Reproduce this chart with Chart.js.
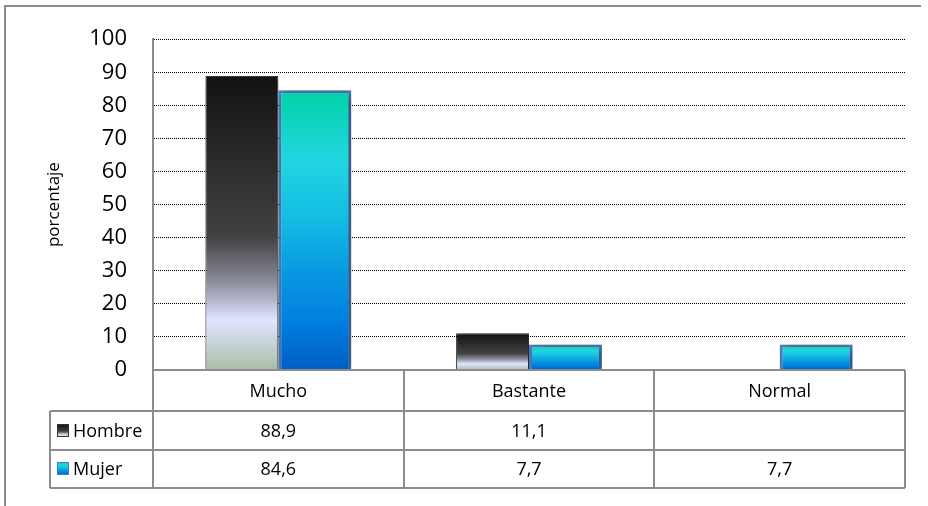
<!DOCTYPE html>
<html>
<head>
<meta charset="utf-8">
<script src="https://cdn.jsdelivr.net/npm/chart.js@4"></script>
<style>
  html, body { margin: 0; padding: 0; background: #fff; }
  #wrap { width: 928px; height: 506px; }
</style>
</head>
<body>
<div id="wrap"><canvas id="chart" width="928" height="506"></canvas></div>
<script>
// ========== DATA ==========
const categories = ['Mucho', 'Bastante', 'Normal'];
const seriesNames = ['Hombre', 'Mujer'];
const hombre = [88.9, 11.1, null];
const mujer = [84.6, 7.7, 7.7];
const yMin = 0, yMax = 100, yStep = 10;

const FONT = '"Open Sans", "Liberation Sans", sans-serif';
const LINE = '#8c8c8c';

// gradiente por barra (de arriba a abajo)
function barGradient(stops) {
    return function(c) {
        const chart = c.chart;
        if (!chart.chartArea || c.raw == null) return stops[0][1];
        const y = chart.scales.y;
        const top = y.getPixelForValue(c.raw);
        const bottom = y.getPixelForValue(0);
        const g = chart.ctx.createLinearGradient(0, top, 0, bottom);
        stops.forEach(s => g.addColorStop(s[0], s[1]));
        return g;
    };
}

const hombreStops = [
    [0, '#121212'], [0.55, '#424242'], [0.70, '#8c8c9c'],
    [0.83, '#dfe5ff'], [0.92, '#c4d0d4'], [1, '#a8bea4']
];
const mujerStops = [
    [0, '#00d3a6'], [0.25, '#21d6e0'], [0.45, '#14bde3'],
    [0.65, '#0899e2'], [0.82, '#0080e0'], [1, '#005ec4']
];

// ========== PLUGINS ==========
const framePlugin = {
    id: 'frame',
    beforeDraw(chart) {
        const ctx = chart.ctx;
        ctx.save();
        ctx.fillStyle = '#fff';
        ctx.fillRect(0, 0, chart.width, chart.height);
        ctx.strokeStyle = LINE;
        ctx.lineWidth = 2;
        ctx.beginPath();
        ctx.moveTo(5, chart.height);
        ctx.lineTo(5, 6);
        ctx.lineTo(921, 6);
        ctx.stroke();
        ctx.restore();
    }
};

const shadowPlugin = {
    id: 'barShadow',
    beforeDatasetsDraw(chart) {
        const ctx = chart.ctx;
        ctx.save();
        ctx.shadowColor = 'rgba(0,0,0,0.4)';
        ctx.shadowBlur = 10;
        ctx.shadowOffsetX = 4;
        ctx.shadowOffsetY = 2;
    },
    afterDatasetsDraw(chart) {
        chart.ctx.restore();
    }
};

function legendBox(ctx, x, y, stops, border) {
    const g = ctx.createLinearGradient(0, y, 0, y + 13);
    stops.forEach(s => g.addColorStop(s[0], s[1]));
    ctx.fillStyle = g;
    ctx.fillRect(x, y, 12, 13);
    ctx.strokeStyle = border;
    ctx.lineWidth = 1;
    ctx.strokeRect(x + 0.5, y + 0.5, 11, 12);
}

const tablePlugin = {
    id: 'dataTable',
    afterDraw(chart) {
        const ctx = chart.ctx;
        const a = chart.chartArea;
        const n = categories.length;
        const w = (a.right - a.left) / n;
        const tableLeft = 50;
        const y0 = a.bottom;
        const y1 = y0 + 41;
        const y2 = y1 + 39;
        const y3 = y2 + 38;

        ctx.save();
        ctx.strokeStyle = LINE;
        ctx.lineWidth = 2;
        ctx.beginPath();
        ctx.moveTo(a.left, y0); ctx.lineTo(a.right, y0);
        [y1, y2, y3].forEach(y => { ctx.moveTo(tableLeft, y); ctx.lineTo(a.right, y); });
        for (let i = 0; i <= n; i++) {
            const x = Math.round(a.left + i * w);
            ctx.moveTo(x, y0); ctx.lineTo(x, y3);
        }
        ctx.moveTo(tableLeft, y1); ctx.lineTo(tableLeft, y3);
        ctx.stroke();

        // filas de series
        const rows = [
            { name: seriesNames[0], data: hombre, stops: hombreStops, border: '#333', yTop: y1, yBot: y2 },
            { name: seriesNames[1], data: mujer, stops: mujerStops, border: '#4a7ebb', yTop: y2, yBot: y3 }
        ];
        ctx.font = '18px ' + FONT;
        ctx.textBaseline = 'middle';
        rows.forEach(r => {
            const cy = (r.yTop + r.yBot) / 2;
            legendBox(ctx, 57, Math.round(cy - 7), r.stops, r.border);
            ctx.fillStyle = '#000';
            ctx.textAlign = 'left';
            ctx.fillText(r.name, 73, cy + 1);
            ctx.textAlign = 'center';
            r.data.forEach((v, i) => {
                if (v == null) return;
                ctx.fillText(v.toFixed(1).replace('.', ','), a.left + (i + 0.5) * w, cy + 1);
            });
        });
        ctx.restore();
    }
};

// ========== CHART ==========
new Chart(document.getElementById('chart').getContext('2d'), {
    type: 'bar',
    data: {
        labels: categories,
        datasets: [
            {
                label: seriesNames[0],
                data: hombre,
                backgroundColor: barGradient(hombreStops),
                borderColor: 'rgba(0,0,0,0.75)',
                borderWidth: 1
            },
            {
                label: seriesNames[1],
                data: mujer,
                backgroundColor: barGradient(mujerStops),
                borderColor: '#4a7ebb',
                borderWidth: 3
            }
        ]
    },
    options: {
        responsive: false,
        devicePixelRatio: 1,
        animation: false,
        categoryPercentage: 0.582,
        barPercentage: 1,
        layout: { padding: { left: 40, right: 23, top: 37, bottom: 0 } },
        plugins: {
            legend: { display: false },
            tooltip: { enabled: false }
        },
        scales: {
            y: {
                min: yMin,
                max: yMax,
                ticks: {
                    stepSize: yStep,
                    padding: 26,
                    color: '#000',
                    font: { family: FONT, size: 22 }
                },
                grid: { color: '#000', lineWidth: 1, drawTicks: false },
                border: { display: true, color: LINE, width: 2, dash: [1, 1] },
                title: {
                    display: true,
                    text: 'porcentaje',
                    color: '#000',
                    font: { family: FONT, size: 17 }
                },
                afterFit: s => { s.width = 113; }
            },
            x: {
                ticks: {
                    padding: 11,
                    color: '#000',
                    font: { family: FONT, size: 18 }
                },
                grid: { display: false, drawTicks: false },
                border: { display: false },
                afterFit: s => { s.height = 136; }
            }
        }
    },
    plugins: [framePlugin, shadowPlugin, tablePlugin]
});
</script>
</body>
</html>
